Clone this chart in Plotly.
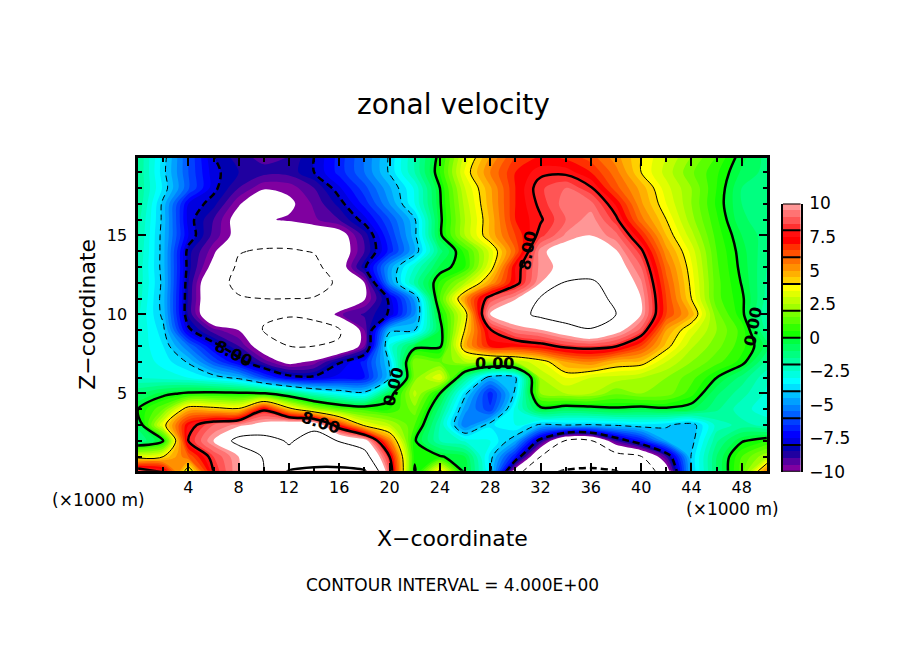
import plotly.graph_objects as go

x_km = [0,2,4,6,8,10,12,14,16,18,20,22,24,26,28,30,32,34,36,38,40,42,44,46,48,50]
y_km = [20,19,18,17,16,15,14,13,12,11,10,9,8,7,6,5,4,3,2,1,0]

u_values = [
 [-1.5,-3.7,-6.0,-8.0,-8.8,-9.2,-9.0,-8.0,-6.8,-5.5,-3.9,-2.0,0.3,3.2,5.0,6.5,7.0,6.8,6.2,5.2,4.0,3.0,2.0,1.0,-0.3,-1.2],
 [-1.5,-3.8,-6.0,-7.8,-8.5,-8.8,-8.8,-8.0,-6.8,-5.5,-3.9,-2.0,0.5,3.6,5.5,7.0,7.8,7.8,7.0,5.7,4.0,2.8,1.6,0.6,-0.6,-1.2],
 [-1.5,-3.6,-5.9,-7.8,-9.0,-9.9,-9.8,-9.0,-7.6,-6.2,-4.6,-2.9,0.0,3.0,4.9,7.0,8.4,9.0,8.1,6.2,4.8,3.2,2.0,0.5,-1.0,-1.3],
 [-1.5,-4.2,-7.5,-8.3,-9.9,-11.0,-10.2,-9.4,-8.3,-6.8,-5.0,-3.0,-0.1,2.7,4.8,7.0,8.2,9.3,9.2,7.4,5.1,3.5,2.0,0.4,-1.0,-1.3],
 [-1.8,-4.2,-7.7,-9.0,-10.5,-10.1,-9.9,-9.6,-9.0,-7.7,-6.0,-4.1,-0.2,2.5,4.6,7.0,7.9,9.0,9.8,8.2,5.7,4.0,2.2,0.6,-0.9,-1.3],
 [-1.9,-4.3,-7.5,-9.2,-10.4,-11.0,-11.0,-10.8,-10.6,-8.8,-6.5,-4.2,-0.2,2.5,4.6,6.5,8.3,9.6,10.0,9.2,7.0,4.5,2.7,0.8,-0.5,-1.3],
 [-2.0,-4.3,-8.3,-9.8,-11.9,-12.2,-12.2,-11.9,-10.8,-9.0,-6.8,-4.5,-1.2,0.7,3.2,6.0,9.8,10.6,10.8,10.1,8.2,5.2,3.3,1.0,-0.3,-1.4],
 [-2.1,-4.3,-8.3,-10.4,-12.3,-13.0,-13.0,-12.6,-10.7,-8.2,-4.8,-2.5,-0.4,0.5,3.5,7.5,9.7,10.3,11.0,10.7,9.0,5.8,3.6,1.1,-0.2,-1.5],
 [-2.1,-4.2,-8.5,-11.5,-12.3,-13.0,-13.0,-12.8,-11.7,-10.0,-5.0,-1.8,0.6,2.5,5.0,7.6,10.0,12.2,12.3,11.2,9.6,6.2,3.8,1.2,-0.05,-1.6],
 [-2.2,-4.3,-8.6,-11.5,-11.9,-12.0,-12.0,-11.9,-11.8,-10.1,-7.8,-4.8,1.0,5.2,8.6,9.9,12.2,13.0,13.0,11.5,10.0,6.5,4.0,1.2,0.15,-1.7],
 [-2.4,-4.2,-8.6,-11.5,-11.7,-11.8,-11.9,-11.7,-9.6,-8.9,-7.9,-5.0,0.1,3.5,10.2,11.2,12.5,13.5,13.5,12.0,10.0,6.5,4.8,1.7,0.2,-2.0],
 [-2.5,-3.8,-7.8,-9.3,-10.0,-12.1,-12.5,-12.5,-12.2,-9.5,-4.2,-4.0,-0.4,4.1,7.9,9.4,9.9,10.8,11.8,10.5,8.8,5.0,3.3,2.0,0.8,-1.7],
 [-2.6,-3.5,-5.5,-7.6,-9.0,-10.8,-12.0,-12.0,-11.8,-9.5,-2.8,-0.4,-0.2,4.8,7.2,7.2,7.6,8.3,8.5,8.1,6.5,4.3,2.6,1.7,0.7,-0.7],
 [-2.6,-3.2,-4.1,-6.0,-7.6,-9.2,-10.4,-9.8,-8.1,-6.8,-3.9,2.0,1.4,2.5,2.0,2.5,3.5,5.0,5.5,4.6,4.4,3.0,2.0,1.2,0.3,-1.6],
 [-2.5,-2.7,-3.0,-3.6,-4.3,-6.2,-7.6,-7.8,-7.3,-7.0,-4.1,1.8,3.5,-1.5,-4.5,-4.2,2.5,3.5,3.0,2.8,2.5,2.0,1.2,0.0,-1.2,-2.4],
 [-1.0,-0.3,0.2,0.3,0.2,0.1,-1.0,-2.4,-3.2,-3.7,-0.5,2.7,0.0,-3.8,-6.8,-3.8,2.0,2.5,2.5,1.6,2.0,1.8,0.7,-0.9,-1.8,-2.6],
 [0.0,1.5,4.7,4.5,4.2,7.8,4.5,2.5,1.3,0.8,0.5,1.8,-1.2,-4.8,-6.4,-2.8,-0.3,-0.7,-0.5,-0.2,-0.4,-0.2,-0.4,-1.4,-2.3,-2.8],
 [-0.8,3.6,7.5,9.0,9.7,10.5,11.5,11.5,7.0,3.7,2.6,1.0,-2.0,-5.5,-3.6,-3.0,-4.2,-4.0,-4.1,-3.9,-3.6,-3.9,-4.4,-2.3,-1.8,-2.2],
 [-1.5,0.0,8.0,10.0,12.8,12.8,11.8,12.8,11.9,10.7,5.5,0.1,-2.0,-2.6,-3.0,-4.5,-8.5,-12.2,-12.2,-9.0,-7.0,-4.5,-4.3,-1.6,-0.1,0.5],
 [3.5,4.0,6.0,8.5,10.0,12.2,12.6,14.0,14.0,13.0,8.0,0.2,0.1,-0.5,-3.7,-7.0,-12.0,-13.5,-14.0,-13.0,-12.1,-9.0,-3.9,-1.0,1.0,2.5],
 [9.5,8.3,3.0,8.0,10.0,12.0,16.5,17.0,17.0,16.5,9.0,-0.2,4.6,-0.2,-3.5,-11.0,-15.0,-16.5,-16.8,-16.3,-13.5,-11.0,-4.0,-1.0,1.2,6.0],
]

band_colors = [
 "rgb(128,0,160)","rgb(85,0,160)","rgb(32,0,160)","rgb(0,0,176)",
 "rgb(0,0,224)","rgb(0,0,255)","rgb(0,32,255)","rgb(0,64,255)",
 "rgb(0,96,255)","rgb(0,128,255)","rgb(0,160,255)","rgb(0,192,255)",
 "rgb(0,224,255)","rgb(0,255,255)","rgb(0,255,224)","rgb(0,255,192)",
 "rgb(0,255,160)","rgb(0,255,128)","rgb(0,255,96)","rgb(0,255,64)",
 "rgb(20,255,0)","rgb(50,255,0)","rgb(90,255,0)","rgb(120,255,0)",
 "rgb(160,255,0)","rgb(192,255,0)","rgb(224,255,0)","rgb(255,255,0)",
 "rgb(255,208,0)","rgb(255,176,0)","rgb(255,144,0)","rgb(255,112,0)",
 "rgb(255,80,0)","rgb(255,48,0)","rgb(255,0,0)","rgb(255,16,16)",
 "rgb(255,48,48)","rgb(255,85,85)","rgb(255,115,115)","rgb(255,150,150)",
]
band_mids = [-9.75 + 0.5*i for i in range(40)]
bar_ticks = [-10,-7.5,-5,-2.5,0,2.5,5,7.5,10]
bar_labels = ["\u221210","\u22127.5","\u22125","\u22122.5","0","2.5","5","7.5","10"]
bar_rules = [-10,-8,-6,-4,-2,0,2,4,6,8,10]

line_levels = [(-16,2.5,"7px,4px"),(-12,1,"6px,4px"),(-8,2.5,"7px,4px"),(-4,1,"6px,4px"),
               (0,2.5,"solid"),(4,1,"solid"),(8,2.5,"solid"),(12,1,"solid"),(16,2.5,"solid")]

W, H = 904, 654
def px(v): return (v - 5.3) / 1.005 / W
def py(v): return 1 - (v - 4.5) / 1.01 / H
FONT = "DejaVu Sans"

all_colors = ["white"] + band_colors + ["white"]
fill_scale = [[i/41, c] for i, c in enumerate(all_colors)]

fig = go.Figure()
fig.add_trace(go.Contour(
    x=x_km, y=y_km, z=u_values, autocontour=False,
    contours=dict(start=-10, end=10, size=0.5, coloring="fill", showlines=False),
    colorscale=fill_scale, zmin=-10.25, zmax=10.25, showscale=False,
    line=dict(width=0, smoothing=0.9), hoverinfo="skip"))
for lev, w, d in line_levels:
    fig.add_trace(go.Contour(
        x=x_km, y=y_km, z=u_values, autocontour=False,
        contours=dict(start=lev, end=lev, size=1, coloring="none"),
        line=dict(color="black", width=w, dash=d, smoothing=0.9),
        showscale=False, hoverinfo="skip"))

bar_scale = []
for i, c in enumerate(band_colors):
    bar_scale += [[i/40, c], [(i+1)/40, c]]
fig.add_trace(go.Heatmap(
    x=[0], y=band_mids, z=[[m] for m in band_mids], xaxis="x2", yaxis="y2",
    colorscale=bar_scale, zmin=-10, zmax=10, showscale=False, hoverinfo="skip"))
for r in bar_rules:
    fig.add_trace(go.Scatter(x=[-0.5,0.5], y=[r,r], xaxis="x2", yaxis="y2", mode="lines",
                             line=dict(color="black", width=2), hoverinfo="skip", showlegend=False))

def tf(size): return dict(family=FONT, size=size, color="black")

fig.update_layout(
    width=W, height=H, autosize=False, showlegend=False,
    paper_bgcolor="white", plot_bgcolor="white",
    margin=dict(l=0, r=0, t=0, b=0, pad=0, autoexpand=False),
    xaxis=dict(domain=[px(136), px(768)], range=[0,50], tickvals=list(range(4,49,4)),
               ticks="inside", ticklen=8, tickwidth=2, tickcolor="black", mirror="ticks",
               showline=True, linecolor="black", linewidth=2.5, showgrid=False, zeroline=False,
               tickfont=tf(16), ticklabelstandoff=0, automargin=False,
               minor=dict(tickvals=list(range(2,50,2)), ticks="inside", ticklen=4, tickwidth=1.5, tickcolor="black")),
    yaxis=dict(domain=[py(472), py(156)], range=[0.1,19.9], tickvals=[5,10,15],
               ticks="inside", ticklen=8, tickwidth=2, tickcolor="black", mirror="ticks",
               showline=True, linecolor="black", linewidth=2.5, showgrid=False, zeroline=False,
               tickfont=tf(16), ticklabelstandoff=5, automargin=False,
               minor=dict(tickvals=list(range(1,20)), ticks="inside", ticklen=4, tickwidth=1.5, tickcolor="black")),
    xaxis2=dict(domain=[px(784), px(802)], range=[-0.5,0.5], visible=False, anchor="y2"),
    yaxis2=dict(domain=[py(473), py(202)], range=[-10,10], side="right", anchor="x2",
                tickvals=bar_ticks, ticktext=bar_labels, ticks="", tickfont=tf(17), ticklabelstandoff=3,
                showline=True, linecolor="black", linewidth=2, mirror=True,
                showgrid=False, zeroline=False, automargin=False),
)

def note(text, x, y, size, angle=0):
    fig.add_annotation(text=text, xref="paper", yref="paper", x=px(x), y=py(y), showarrow=False,
                       font=tf(size), textangle=angle, xanchor="center", yanchor="middle")

note("zonal velocity", 453, 102, 28)
note("X\u2212coordinate", 452, 540, 22)
note("Z\u2212coordinate", 85, 314, 22, -90)
note("(\u00d71000 m)", 96, 501, 17)
note("(\u00d71000 m)", 733, 511, 17)
note("CONTOUR INTERVAL = 4.000E+00", 452, 587, 17)
note("<b>8.00</b>", 232, 353, 16, 27)
note("<b>8.00</b>", 319, 423, 16, 18)
note("<b>0.00</b>", 393, 387, 16, -75)
note("<b>0.00</b>", 494, 364, 16, 0)
note("<b>8.00</b>", 527, 250, 16, -80)
note("<b>0.00</b>", 754, 326, 16, -80)

fig.write_html("out.html")
